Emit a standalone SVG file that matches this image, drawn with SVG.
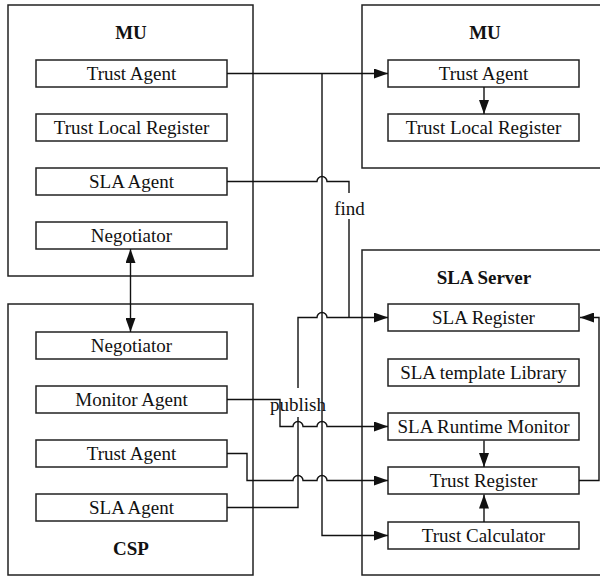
<svg xmlns="http://www.w3.org/2000/svg" width="600" height="576" viewBox="0 0 600 576">
<style>
.outer{fill:#fff;stroke:#222;stroke-width:1.5}
.box{fill:#fff;stroke:#222;stroke-width:1.5}
.t{font-family:"Liberation Serif","Times New Roman",serif;font-size:19px;fill:#111;text-anchor:middle}
.b{font-weight:bold}
.c{fill:none;stroke:#111;stroke-width:1.4}
</style>
<defs>
<marker id="ah" viewBox="0 0 14 10" refX="14" refY="5" markerWidth="14" markerHeight="10" markerUnits="userSpaceOnUse" orient="auto-start-reverse">
<path d="M0,0 L14,5 L0,10 z" fill="#111"/>
</marker>
</defs>
<rect width="600" height="576" fill="#fff"/>

<g id="mu-left">
<rect class="outer" x="8" y="5" width="245" height="271"/>
<text class="t b" x="131" y="39">MU</text>
</g>
<g id="mu-left-trust-agent"><rect class="box" x="36" y="60" width="191" height="27"/><text class="t" x="131.5" y="80">Trust Agent</text></g>
<g id="mu-left-tlr"><rect class="box" x="36" y="114" width="191" height="27"/><text class="t" x="131.5" y="134">Trust Local Register</text></g>
<g id="mu-left-sla-agent"><rect class="box" x="36" y="168" width="191" height="27"/><text class="t" x="131.5" y="188">SLA Agent</text></g>
<g id="mu-left-negotiator"><rect class="box" x="36" y="222" width="191" height="27"/><text class="t" x="131.5" y="242">Negotiator</text></g>

<g id="mu-right">
<rect class="outer" x="362" y="5" width="260" height="163"/>
<text class="t b" x="485" y="39">MU</text>
</g>
<g id="mu-right-trust-agent"><rect class="box" x="388" y="60" width="191" height="27"/><text class="t" x="483.5" y="80">Trust Agent</text></g>
<g id="mu-right-tlr"><rect class="box" x="388" y="114" width="191" height="27"/><text class="t" x="483.5" y="134">Trust Local Register</text></g>

<g id="csp">
<rect class="outer" x="8" y="304" width="245" height="271"/>
<text class="t b" x="131" y="555">CSP</text>
</g>
<g id="csp-negotiator"><rect class="box" x="36" y="332" width="191" height="27"/><text class="t" x="131.5" y="352">Negotiator</text></g>
<g id="csp-monitor-agent"><rect class="box" x="36" y="386" width="191" height="27"/><text class="t" x="131.5" y="406">Monitor Agent</text></g>
<g id="csp-trust-agent"><rect class="box" x="36" y="440" width="191" height="27"/><text class="t" x="131.5" y="460">Trust Agent</text></g>
<g id="csp-sla-agent"><rect class="box" x="36" y="494" width="191" height="27"/><text class="t" x="131.5" y="514">SLA Agent</text></g>

<g id="sla-server">
<rect class="outer" x="362" y="250" width="260" height="325"/>
<text class="t b" x="484" y="284">SLA Server</text>
</g>
<g id="sla-register"><rect class="box" x="388" y="304" width="191" height="27"/><text class="t" x="483.5" y="324">SLA Register</text></g>
<g id="sla-template-library"><rect class="box" x="388" y="359" width="191" height="27"/><text class="t" x="483.5" y="379">SLA template Library</text></g>
<g id="sla-runtime-monitor"><rect class="box" x="388" y="413" width="191" height="27"/><text class="t" x="483.5" y="433">SLA Runtime Monitor</text></g>
<g id="trust-register"><rect class="box" x="388" y="467" width="191" height="27"/><text class="t" x="483.5" y="487">Trust Register</text></g>
<g id="trust-calculator"><rect class="box" x="388" y="522" width="191" height="27"/><text class="t" x="483.5" y="542">Trust Calculator</text></g>

<g id="connectors">
<path class="c" d="M227,73.5 H388" marker-end="url(#ah)"/>
<path class="c" d="M322,73.5 V535.5 H388" marker-end="url(#ah)"/>
<path class="c" d="M227,181.5 H317 A5,5 0 0 1 327,181.5 H349 V193"/>
<path class="c" d="M349,219 V317.5"/>
<path class="c" d="M227,507.5 H298 V417"/>
<path class="c" d="M298,388 V317.5 H317 A5,5 0 0 1 327,317.5 H388" marker-end="url(#ah)"/>
<path class="c" d="M227,399.5 H280 V426.5 H293 A5,5 0 0 1 303,426.5 H317 A5,5 0 0 1 327,426.5 H388" marker-end="url(#ah)"/>
<path class="c" d="M227,453.5 H247 V480.5 H293 A5,5 0 0 1 303,480.5 H317 A5,5 0 0 1 327,480.5 H388" marker-end="url(#ah)"/>
<path class="c" d="M579,480.5 H599 V317.5 H580" marker-end="url(#ah)"/>
<path class="c" d="M130.5,249 V332" marker-start="url(#ah)" marker-end="url(#ah)"/>
<path class="c" d="M484,87 V114" marker-end="url(#ah)"/>
<path class="c" d="M484,440.5 V467" marker-end="url(#ah)"/>
<path class="c" d="M484,522 V494.5" marker-end="url(#ah)"/>
<text class="t" x="349.5" y="215">find</text>
<text class="t" x="298" y="411">publish</text>
</g>
</svg>
